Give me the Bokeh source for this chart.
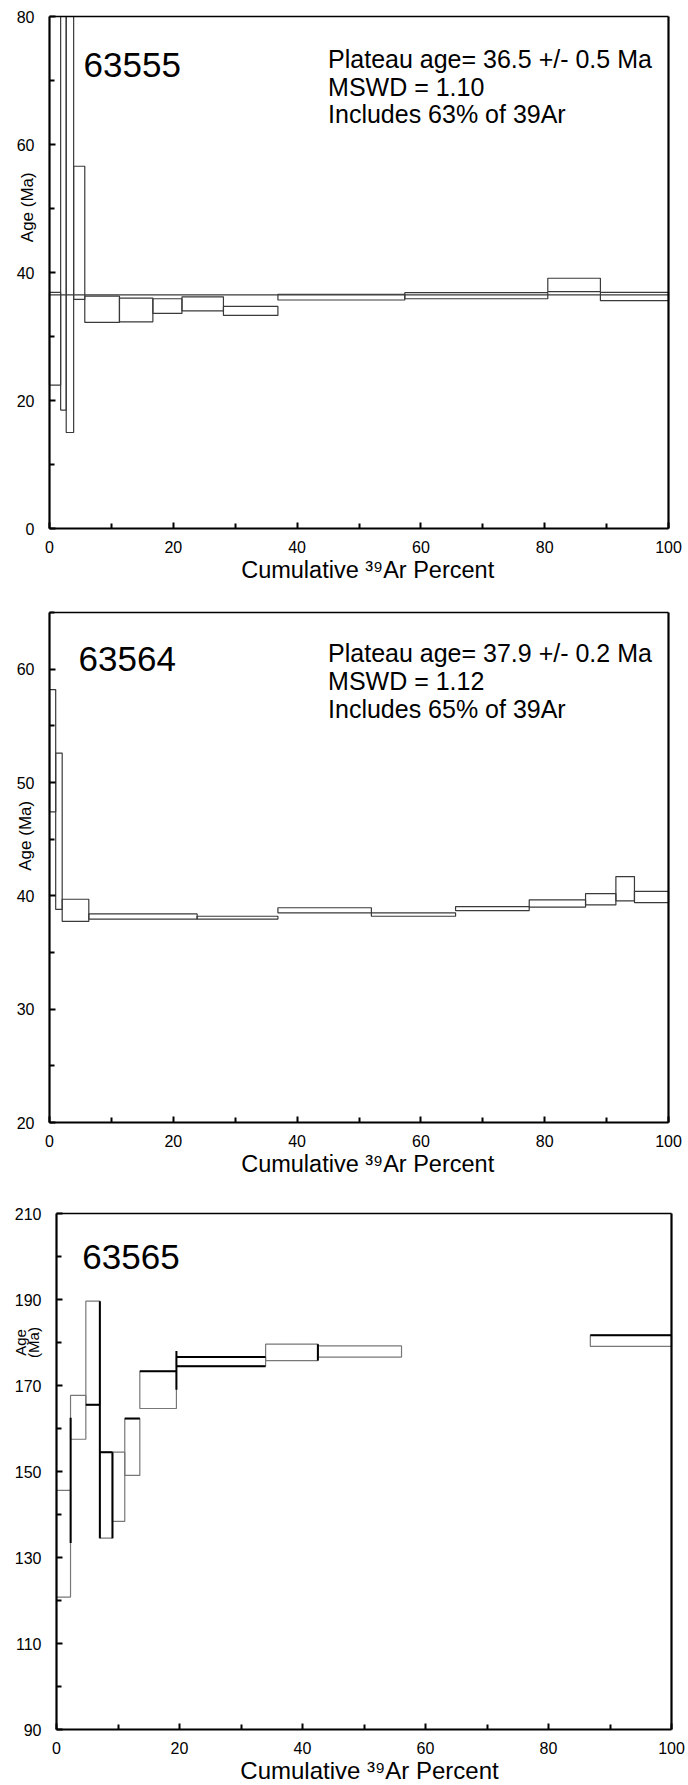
from bokeh.plotting import figure
from bokeh.layouts import column
from bokeh.models import FixedTicker, Label, Range1d, LinearAxis
from bokeh.embed import file_html
from bokeh.resources import INLINE
import math

FONT = "Liberation Sans"
X_TITLE = "Cumulative \u00b3\u2079Ar Percent"

# ---------------- Sample 63555 ----------------
s1_name = "63555"
s1_left = [0, 1.8, 2.7, 3.9, 5.7, 11.3, 16.7, 21.4, 28.1, 36.9, 57.4, 80.5, 89.0]
s1_right = [1.8, 2.7, 3.9, 5.7, 11.3, 16.7, 21.4, 28.1, 36.9, 57.4, 80.5, 89.0, 100]
s1_low = [22.4, 18.5, 15.0, 35.8, 32.2, 32.3, 33.6, 34.0, 33.3, 35.7, 35.9, 37.0, 35.6]
s1_high = [36.9, 95.0, 98.0, 56.6, 36.3, 36.0, 35.9, 36.2, 34.7, 36.6, 36.85, 39.1, 36.9]
s1_plateau = 36.5
s1_stats = ["Plateau age= 36.5 +/- 0.5 Ma", "MSWD = 1.10", "Includes 63% of 39Ar"]
s1_y = (0, 80)
s1_yticks = [0, 20, 40, 60, 80]
s1_yminor = [10, 30, 50, 70]

# ---------------- Sample 63564 ----------------
s2_name = "63564"
s2_left = [0, 1.0, 2.05, 6.35, 23.85, 36.9, 52.0, 65.6, 77.5, 86.6, 91.5, 94.5]
s2_right = [1.0, 2.05, 6.35, 23.85, 36.9, 52.0, 65.6, 77.5, 86.6, 91.5, 94.5, 100]
s2_low = [47.4, 38.8, 37.75, 37.95, 37.95, 38.5, 38.2, 38.7, 39.0, 39.2, 39.55, 39.4]
s2_high = [58.2, 52.6, 39.7, 38.4, 38.2, 38.95, 38.5, 39.05, 39.65, 40.2, 41.7, 40.4]
s2_stats = ["Plateau age= 37.9 +/- 0.2 Ma", "MSWD = 1.12", "Includes 65% of 39Ar"]
s2_y = (20, 65)
s2_yticks = [20, 30, 40, 50, 60]
s2_yminor = [25, 35, 45, 55, 65]

# ---------------- Sample 63565 ----------------
s3_name = "63565"
s3_left = [0, 2.28, 4.77, 7.05, 9.1, 11.1, 13.55, 19.5, 34.0, 42.5, 86.8]
s3_right = [2.28, 4.77, 7.05, 9.1, 11.1, 13.55, 19.5, 34.0, 42.5, 56.1, 100]
s3_low = [120.8, 157.5, 165.5, 134.5, 138.4, 149.1, 164.65, 174.5, 175.8, 176.6, 179.1]
s3_high = [145.6, 167.7, 189.6, 154.5, 154.5, 162.3, 173.3, 176.6, 179.6, 179.2, 181.7]
# darker overprinted step edges
s3_dark_x0 = [2.3, 4.77, 7.05, 7.05, 9.1, 11.1, 13.55, 19.5, 19.5, 19.5, 42.5, 86.8]
s3_dark_x1 = [2.3, 7.05, 7.05, 9.1, 9.1, 13.55, 19.5, 19.5, 34.0, 34.0, 42.5, 100]
s3_dark_y0 = [133.4, 165.5, 134.5, 154.5, 134.5, 162.3, 173.3, 169.0, 176.6, 174.5, 175.8, 181.7]
s3_dark_y1 = [162.5, 165.5, 189.6, 154.5, 154.5, 162.3, 173.3, 178.0, 176.6, 174.5, 179.6, 181.7]
s3_y = (90, 210)
s3_yticks = [90, 110, 130, 150, 170, 190, 210]
s3_yminor = [100, 120, 140, 160, 180, 200]

X_LO, X_HI = 0, 100
x_ticks = [0, 20, 40, 60, 80, 100]
x_minor = [10, 30, 50, 70, 90]


def make_fig(height, frame_top, frame_bottom, left_px, right_px, yr, yticks, yminor,
             tick_font="16px"):
    y_lo, y_hi = yr
    ppu_x = (688 - right_px - left_px) / (X_HI - X_LO)
    ppu_y = (frame_bottom - frame_top) / (y_hi - y_lo)
    x_range = Range1d(X_LO - left_px / ppu_x, X_HI + right_px / ppu_x)
    y_range = Range1d(y_lo - (height - frame_bottom) / ppu_y, y_hi + frame_top / ppu_y)
    p = figure(width=688, height=height, x_range=x_range, y_range=y_range,
               output_backend="svg", toolbar_location=None, min_border=0)
    p.title.visible = False
    p.xgrid.visible = False
    p.ygrid.visible = False
    p.background_fill_color = "white"
    p.border_fill_color = "white"
    p.outline_line_color = None
    xax = p.below[0]
    yax = p.left[0]
    xax.ticker = FixedTicker(ticks=x_ticks, minor_ticks=x_minor)
    yax.ticker = FixedTicker(ticks=yticks, minor_ticks=yminor)
    xax.bounds = (X_LO, X_HI)
    yax.bounds = (y_lo, y_hi)
    xax.fixed_location = y_lo
    yax.fixed_location = X_LO
    for ax in (xax, yax):
        ax.axis_line_width = 2.2
        ax.axis_line_color = "black"
        ax.major_tick_in = 6
        ax.major_tick_out = 0
        ax.minor_tick_in = 5
        ax.minor_tick_out = 0
        ax.major_tick_line_width = 2
        ax.minor_tick_line_width = 2
        ax.major_label_text_font = FONT
        ax.major_label_text_font_size = tick_font
        ax.major_label_text_color = "black"
    yax.major_label_standoff = 15
    xax.major_label_standoff = 12
    # top and right frame edges
    top_ax = LinearAxis(ticker=FixedTicker(ticks=[]), bounds=(X_LO, X_HI), fixed_location=y_hi,
                        axis_line_width=1.6, axis_line_color="black",
                        major_tick_line_color=None, minor_tick_line_color=None,
                        major_label_text_font_size="0px", major_tick_out=0, major_tick_in=0)
    p.add_layout(top_ax, "above")
    right_ax = LinearAxis(ticker=FixedTicker(ticks=[]), bounds=(y_lo, y_hi), fixed_location=X_HI,
                          axis_line_width=2.2, axis_line_color="black",
                          major_tick_line_color=None, minor_tick_line_color=None,
                          major_label_text_font_size="0px", major_tick_out=0, major_tick_in=0)
    p.add_layout(right_ax, "right")
    return p, ppu_y


def add_text(p, x, y, txt, size, angle=0.0, align="left", baseline="alphabetic"):
    p.add_layout(Label(x=x, y=y, text=txt, text_font=FONT, text_font_size=size,
                       text_color="black", angle=angle, text_align=align,
                       text_baseline=baseline))


def add_side_text(p, x, y, txt, size):
    add_text(p, x, y, txt, size, angle=math.pi / 2, align="center", baseline="middle")


# ---- Figure 1 ----
p1, k1 = make_fig(590, 16, 528, 49, 20, s1_y, s1_yticks, s1_yminor)
p1.quad(left=s1_left, right=s1_right, bottom=s1_low,
        top=[min(h, s1_y[1]) for h in s1_high],
        fill_color=None, line_color="#3a3a3a", line_width=1.2)
p1.line(x=[X_LO, X_HI], y=[s1_plateau, s1_plateau], line_color="#3a3a3a", line_width=1.2)
add_text(p1, 5.5, 72.5, s1_name, "35px")
for i, t in enumerate(s1_stats):
    add_text(p1, 45.0, [73.3, 69.05, 64.8][i], t, "25px")
add_side_text(p1, -3.55, 50.2, "Age (Ma)", "17px")
add_text(p1, 51.4, s1_y[0] - 41 / k1, X_TITLE, "23.5px", align="center", baseline="middle")

# ---- Figure 2 ----
p2, k2 = make_fig(590, 22, 532, 49, 20, s2_y, s2_yticks, s2_yminor)
p2.quad(left=s2_left, right=s2_right, bottom=s2_low, top=s2_high,
        fill_color=None, line_color="#3a3a3a", line_width=1.2)
add_text(p2, 4.7, 60.9, s2_name, "35px")
for i, t in enumerate(s2_stats):
    add_text(p2, 45.0, [61.45, 59.0, 56.5][i], t, "25px")
add_side_text(p2, -3.9, 45.3, "Age (Ma)", "17px")
add_text(p2, 51.4, s2_y[0] - 41 / k2, X_TITLE, "23.5px", align="center", baseline="middle")

# ---- Figure 3 ----
p3, k3 = make_fig(605, 33, 549, 56, 17, s3_y, s3_yticks, s3_yminor)
p3.quad(left=s3_left, right=s3_right, bottom=s3_low, top=s3_high,
        fill_color=None, line_color="#777777", line_width=1.2)
p3.segment(x0=s3_dark_x0, y0=s3_dark_y0, x1=s3_dark_x1, y1=s3_dark_y1,
           line_color="black", line_width=2)
add_text(p3, 4.2, 200.0, s3_name, "35px")
add_side_text(p3, -5.9, 180.0, "Age", "15px")
add_side_text(p3, -3.75, 180.0, "(Ma)", "15px")
add_text(p3, 50.9, s3_y[0] - 41 / k3, X_TITLE, "24px", align="center", baseline="middle")

layout = column(p1, p2, p3, spacing=0)
open("out.html", "w").write(file_html(layout, INLINE))
